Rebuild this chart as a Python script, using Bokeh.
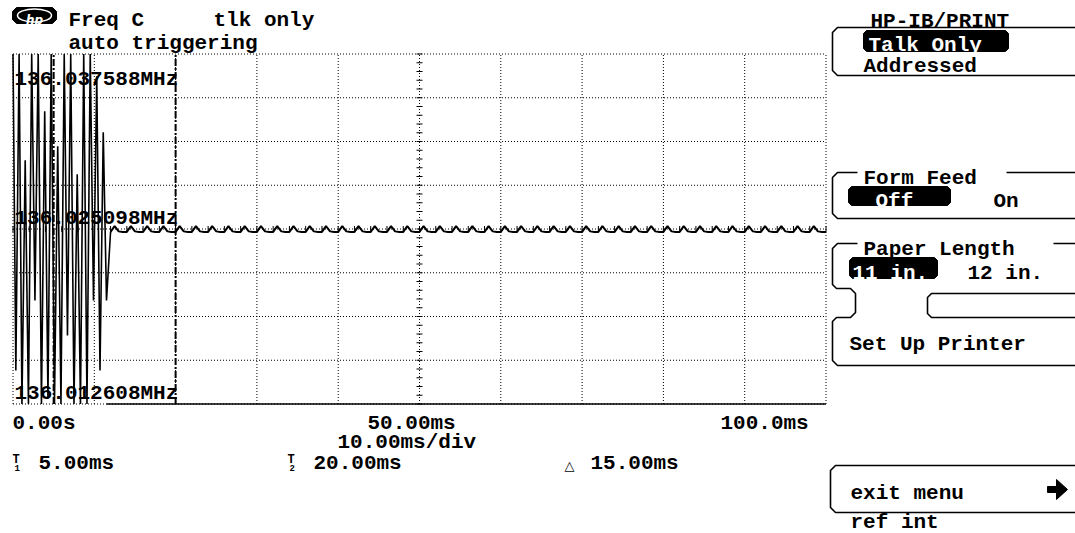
from bokeh.plotting import figure
from bokeh.models import Range1d
from bokeh.embed import file_html
from bokeh.resources import INLINE
from bokeh.core.properties import value

# ---------------- data ----------------
freq_top = 136.037588
freq_mid = 136.025098
freq_bot = 136.012608
y_labels = ["136.037588MHz", "136.025098MHz", "136.012608MHz"]
time_start, time_end = 0.0, 100.0
x_labels = ["0.00s", "50.00ms", "100.0ms"]
x_div_label = "10.00ms/div"
marker_t1 = 5.0
marker_t2 = 20.0
marker_labels = ["5.00ms", "20.00ms", "15.00ms"]

# settling transient (ms, MHz); excursions beyond the screen are shown at the screen limits
transient_t = [0.0, 0.35, 0.75, 1.1, 1.5, 1.9, 2.3, 2.7, 3.1, 3.5, 3.9, 4.3, 4.7, 5.1, 5.5,
               5.9, 6.3, 6.7, 7.1, 7.5, 7.9, 8.3, 8.7, 9.1, 9.5, 9.9, 10.3, 10.7, 11.1, 11.5]
transient_f = [136.037588, 136.0150, 136.037588, 136.012608, 136.0300, 136.012608, 136.037588,
               136.0200, 136.037588, 136.012608, 136.0335, 136.0130, 136.037588, 136.012608,
               136.0310, 136.012608, 136.037588, 136.0175, 136.037588, 136.012608, 136.0290,
               136.012608, 136.037588, 136.012608, 136.037588, 136.0200, 136.0360, 136.0150,
               136.0320, 136.0200]

# residual ripple after lock, kHz deviation from centre, sampled every 0.5 ms from 12 ms
ripple_t0 = 12.0
ripple_dt = 0.5
ripple_khz = [
    -0.21, 0.21, -0.17, -0.21, -0.21, 0.21, -0.17, -0.21, -0.21, 0.21, -0.17, -0.21, -0.21, 0.21, -0.17, -0.21,
    -0.21, 0.21, -0.17, -0.21, -0.21, 0.21, -0.17, -0.21, -0.21, 0.21, -0.17, -0.21, -0.21, 0.21, -0.17, -0.21,
    -0.21, 0.21, -0.17, -0.21, -0.21, 0.21, -0.17, -0.21, -0.21, 0.21, -0.17, -0.21, -0.21, 0.21, -0.17, -0.21,
    -0.21, 0.21, -0.17, -0.21, -0.21, 0.21, -0.17, -0.21, -0.21, 0.21, -0.17, -0.21, -0.21, 0.21, -0.17, -0.21,
    -0.21, 0.21, -0.17, -0.21, -0.21, 0.21, -0.17, -0.21, -0.21, 0.21, -0.17, -0.21, -0.21, 0.21, -0.17, -0.21,
    -0.21, 0.21, -0.17, -0.21, -0.21, 0.21, -0.17, -0.21, -0.21, 0.21, -0.17, -0.21, -0.21, 0.21, -0.17, -0.21,
    -0.21, 0.21, -0.17, -0.21, -0.21, 0.21, -0.17, -0.21, -0.21, 0.21, -0.17, -0.21, -0.21, 0.21, -0.17, -0.21,
    -0.21, 0.21, -0.17, -0.21, -0.21, 0.21, -0.17, -0.21, -0.21, 0.21, -0.17, -0.21, -0.21, 0.21, -0.17, -0.21,
    -0.21, 0.21, -0.17, -0.21, -0.21, 0.21, -0.17, -0.21, -0.21, 0.21, -0.17, -0.21, -0.21, 0.21, -0.17, -0.21,
    -0.21, 0.21, -0.17, -0.21, -0.21, 0.21, -0.17, -0.21, -0.21, 0.21, -0.17, -0.21, -0.21, 0.21, -0.17, -0.21,
    -0.21, 0.21, -0.17, -0.21, -0.21, 0.21, -0.17, -0.21, -0.21, 0.21, -0.17, -0.21, -0.21, 0.21, -0.17, -0.21,
    -0.21,
]

header_texts = ["Freq C", "tlk only", "auto triggering"]
menu_title = "HP-IB/PRINT"

# ---------------- derived ----------------
ripple_t = [ripple_t0 + ripple_dt * i for i in range(len(ripple_khz))]
ripple_f = [freq_mid + k / 1000.0 for k in ripple_khz]

FONT = "Liberation Mono"
FS = "21px"
W, H = 1075, 533

# screen placement of the measurement area (pixels)
X0, X1 = 12.5, 825.5
Y0, Y1 = 53.5, 403.5
span_f = freq_top - freq_bot
kx = (time_end - time_start) / (X1 - X0)
ky = span_f / (Y1 - Y0)

p = figure(width=W, height=H, title=None,
           x_range=Range1d(time_start - X0 * kx, time_end + (W - X1) * kx),
           y_range=Range1d(freq_bot - (H - Y1) * ky, freq_top + Y0 * ky),
           x_axis_location=None, y_axis_location=None, min_border=0,
           output_backend="svg", toolbar_location=None)
p.extra_x_ranges = {"px": Range1d(0, W)}
p.extra_y_ranges = {"py": Range1d(H, 0)}
p.grid.visible = False
p.outline_line_color = None
p.background_fill_color = "white"
p.border_fill_color = "white"

# ---- graticule ----
div_t = (time_end - time_start) / 10
div_f = span_f / 8
x_ticks = [time_start + i * div_t for i in range(11)]
y_ticks = [freq_bot + i * div_f for i in range(9)]
p.segment(x0=x_ticks, x1=x_ticks, y0=freq_bot, y1=freq_top,
          line_color="black", line_width=1, line_dash="1 2")
p.segment(x0=time_start, x1=time_end, y0=y_ticks, y1=y_ticks,
          line_color="black", line_width=1, line_dash="1 2")

t_mid = (time_start + time_end) / 2
minor_f = [freq_bot + k * div_f / 5 for k in range(41)]
p.segment(x0=t_mid - 3 * kx, x1=t_mid + 3 * kx, y0=minor_f, y1=minor_f,
          line_color="black", line_width=1)
minor_t = [time_start + k * div_t / 5 for k in range(51)]
p.segment(x0=minor_t, x1=minor_t, y0=freq_mid - 3 * ky, y1=freq_mid + 3 * ky,
          line_color="black", line_width=1)

# markers T1 / T2
p.segment(x0=[marker_t1, marker_t2], x1=[marker_t1, marker_t2], y0=freq_bot, y1=freq_top,
          line_color="black", line_width=2, line_dash="7 2 2 2")

# bottom solid baseline after the transient
p.line([transient_t[-1], time_end], [freq_bot, freq_bot], line_color="black", line_width=1.5)

# ---- trace ----
p.line(transient_t + ripple_t[:1], transient_f + ripple_f[:1], line_color="black", line_width=1.6)
p.line(ripple_t, ripple_f, line_color="black", line_width=2)


# ---- text helpers (page pixel coordinates) ----
def texts(items, color="black", size=FS, font=FONT, style="bold", align="left"):
    p.text(x=[a for a, b, c in items], y=[b for a, b, c in items], text=[c for a, b, c in items],
           x_range_name="px", y_range_name="py",
           text_font=value(font), text_font_size=size, text_font_style=style,
           text_color=color, text_baseline="alphabetic", text_align=align)


def chamfer(x0, x1, y0, y1, c=3):
    return ([x0 + c, x1 - c, x1, x1, x1 - c, x0 + c, x0, x0],
            [y0, y0, y0 + c, y1 - c, y1, y1, y1 - c, y0 + c])


# logo + header
lx, ly = chamfer(12, 56, 7, 23, 4)
p.patch(lx, ly, fill_color="black", line_color="black", x_range_name="px", y_range_name="py")
p.ellipse(x=[34], y=[15], width=34, height=13, fill_color=None, line_color="white",
          line_width=1.5, x_range_name="px", y_range_name="py")
texts([(34, 19.5, "hp")], color="white", size="12px", font="DejaVu Sans",
      style="bold italic", align="center")
texts([(68, 20, header_texts[0]), (213, 20, header_texts[1]), (68, 43, header_texts[2])])

# y labels
texts([(14, sy, lab) for lab, sy in zip(y_labels, (79, 218, 393))])

# x labels
texts([(sx, 423, lab) for lab, sx in zip(x_labels, (12, 367, 720))] + [(337, 442, x_div_label)])

# marker readouts
texts([(12, 459, "T"), (287, 459, "T")], size="12px")
texts([(14, 467, "1"), (289, 467, "2")], size="9px")
texts([(38, 463, marker_labels[0]), (313, 463, marker_labels[1]), (590, 463, marker_labels[2])])
texts([(564, 465, "\u25b3")], size="13px", font="DejaVu Sans", style="normal")

# ---- menu panel ----
R = 1090
paths = [
    [(R, 27), (837, 27), (832, 32), (832, 70), (837, 75), (R, 75)],
    [(857, 172), (837, 172), (832, 177), (832, 213), (837, 218), (R, 218)],
    [(1006, 172), (R, 172)],
    [(857, 243), (837, 243), (832, 248), (832, 284), (836, 288), (850, 288), (855, 293),
     (855, 312), (850, 317), (836, 317), (832, 321), (832, 360), (837, 365), (R, 365)],
    [(1053, 243), (R, 243)],
    [(R, 293), (931, 293), (927, 297), (927, 313), (931, 317), (R, 317)],
    [(R, 465), (835, 465), (830, 470), (830, 507), (835, 512), (R, 512)],
]
p.multi_line(xs=[[a for a, b in pth] for pth in paths], ys=[[b for a, b in pth] for pth in paths],
             line_color="black", line_width=1.6, x_range_name="px", y_range_name="py")

boxes = [chamfer(863, 1008, 30, 51), chamfer(848, 950, 186, 205), chamfer(849, 937, 257, 278)]
p.patches(xs=[b[0] for b in boxes], ys=[b[1] for b in boxes], fill_color="black",
          line_color="black", x_range_name="px", y_range_name="py")

p.patch([1047, 1056, 1056, 1067, 1056, 1056, 1047], [486, 486, 479, 489, 499, 492, 492],
        fill_color="black", line_color="black", x_range_name="px", y_range_name="py")

texts([(870, 21, menu_title), (863, 66, "Addressed"), (863, 178, "Form Feed"),
       (993, 201, "On"), (863, 249, "Paper Length"), (967, 273, "12 in."),
       (849, 344, "Set Up Printer"), (850, 493, "exit menu"), (850, 522, "ref int")])
texts([(868, 45, "Talk Only"), (875, 201, "Off"), (852, 273, "11 in.")], color="white")

open("out.html", "w").write(file_html(p, INLINE, "HP-IB/PRINT"))
